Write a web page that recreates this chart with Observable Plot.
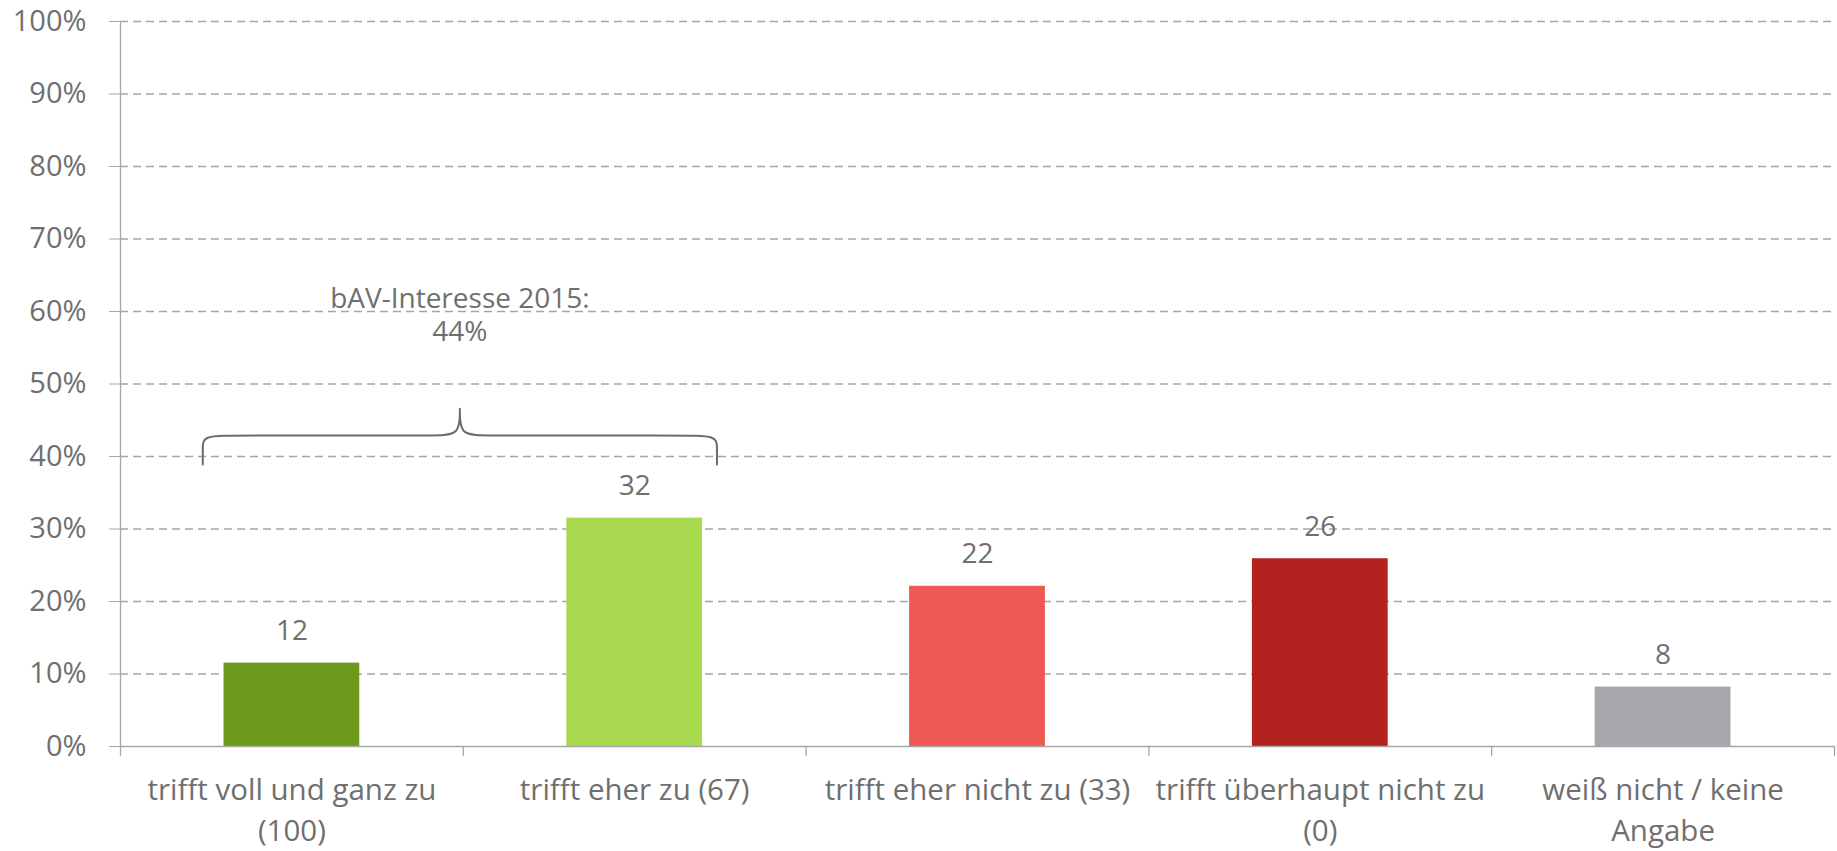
<!DOCTYPE html>
<html>
<head>
<meta charset="utf-8">
<script src="https://cdn.jsdelivr.net/npm/d3@7"></script>
<script src="https://cdn.jsdelivr.net/npm/@observablehq/plot@0.6"></script>
<style>
  html, body { margin: 0; padding: 0; background: #fff; }
  #chart { width: 1837px; height: 851px; }
</style>
</head>
<body>
<div id="chart"></div>
<script>
// ---- Data ----
const categories = [
  "trifft voll und ganz zu\n(100)",
  "trifft eher zu (67)",
  "trifft eher nicht zu (33)",
  "trifft überhaupt nicht zu\n(0)",
  "weiß nicht / keine\nAngabe"
];
const values = [11.5, 31.5, 22.1, 25.9, 8.2];
const valueLabels = ["12", "32", "22", "26", "8"];
const colors = ["#6e9a1b", "#a9d94f", "#ef5853", "#b2221f", "#a7a8ab"];
const yTicks = [0, 10, 20, 30, 40, 50, 60, 70, 80, 90, 100];
const annotationLines = ["bAV-Interesse 2015:", "44%"];
const annotationY = [61.7, 57.2];
// brace control points (x in category-index units, y in %)
const braceX = [-0.26, -0.26, -0.26, -0.26, -0.26, -0.16, 0.42, 0.49, 0.49, 0.49, 0.49, 0.49, 0.56, 1.14, 1.24, 1.24, 1.24, 1.24, 1.24];
const braceY = [38.9, 38.9, 38.9, 41.2, 42.9, 42.9, 42.9, 42.9, 46.6, 46.6, 46.6, 42.9, 42.9, 42.9, 42.9, 41.2, 38.9, 38.9, 38.9];

// ---- Build tables ----
const bars = categories.map((c, i) => ({i, c, v: values[i], label: valueLabels[i], color: colors[i]}));
const brace = braceX.map((x, k) => ({x, y: braceY[k]}));
const annotations = annotationLines.map((t, k) => ({t, y: annotationY[k]}));
const boundaries = d3.range(-0.5, categories.length, 1);
const halfBar = 0.198;

const textColor = "#6f6f6f";
const lineColor = "#a6a6a6";

const chart = Plot.plot({
  width: 1837,
  height: 851,
  marginLeft: 120,
  marginRight: 3,
  marginTop: 21,
  marginBottom: 105,
  style: {fontFamily: "'Open Sans', sans-serif", background: "#fff"},
  x: {type: "linear", domain: [-0.5, categories.length - 0.5]},
  y: {domain: [0, 100]},
  marks: [
    Plot.gridY({ticks: yTicks.filter(d => d > 0), stroke: lineColor, strokeOpacity: 1, strokeWidth: 1.3, strokeDasharray: "8,5"}),
    Plot.rectY(bars, {x1: d => d.i - halfBar, x2: d => d.i + halfBar, y1: 0, y2: "v", fill: "color"}),
    Plot.ruleY([0], {stroke: lineColor, strokeWidth: 1.3}),
    Plot.ruleX([-0.5], {stroke: lineColor, strokeWidth: 1.3}),
    Plot.axisY({ticks: yTicks, tickFormat: d => d + "%", tickSize: 11, tickPadding: 23,
      stroke: lineColor, fill: textColor, fontSize: 29, label: null}),
    Plot.axisX({ticks: boundaries, tickFormat: () => "", tickSize: 10, stroke: lineColor, strokeWidth: 1.3, label: null}),
    Plot.axisX({ticks: d3.range(categories.length), tickFormat: i => categories[i], tickSize: 0, tickPadding: 25,
      fill: textColor, fontSize: 29.5, lineHeight: 1.38, label: null}),
    Plot.text(bars, {x: "i", y: "v", text: "label", dy: -32, fontSize: 28, fill: textColor}),
    Plot.line(brace, {x: "x", y: "y", curve: "basis", stroke: "#6b6b6b", strokeWidth: 2}),
    Plot.text(annotations, {x: () => 0.49, y: "y", text: "t", fontSize: 28, fill: textColor})
  ]
});
document.getElementById("chart").appendChild(chart);
</script>
</body>
</html>
